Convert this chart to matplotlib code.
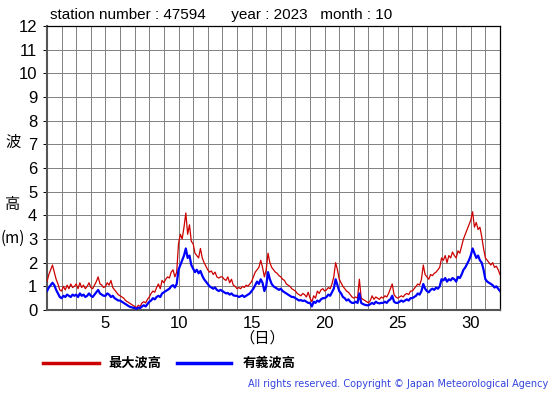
import numpy as np
import matplotlib
matplotlib.use("Agg")
import matplotlib.pyplot as plt

plt.rcParams['font.family'] = ['Liberation Sans', 'Noto Sans CJK JP']

# 3-hourly readings (00,03,...,21h) for each day of October 2023
days = list(range(1, 32))
hours = [0, 3, 6, 9, 12, 15, 18, 21]

# significant wave height (m)
hs_by_day = [
    [0.80, 0.95, 1.05, 1.15, 1.05, 0.85, 0.70, 0.55],
    [0.50, 0.60, 0.55, 0.65, 0.60, 0.55, 0.65, 0.60],
    [0.65, 0.55, 0.70, 0.60, 0.65, 0.55, 0.60, 0.70],
    [0.60, 0.55, 0.65, 0.75, 0.85, 0.70, 0.65, 0.60],
    [0.60, 0.70, 0.65, 0.55, 0.60, 0.50, 0.45, 0.40],
    [0.40, 0.35, 0.30, 0.25, 0.20, 0.15, 0.12, 0.10],
    [0.08, 0.05, 0.10, 0.08, 0.15, 0.20, 0.15, 0.25],
    [0.35, 0.40, 0.50, 0.45, 0.55, 0.60, 0.55, 0.70],
    [0.75, 0.80, 0.85, 0.90, 1.00, 1.05, 0.95, 1.10],
    [1.70, 1.90, 2.10, 2.30, 2.60, 2.20, 2.30, 1.90],
    [1.75, 1.60, 1.70, 1.55, 1.65, 1.45, 1.30, 1.20],
    [1.10, 1.00, 0.95, 0.90, 0.95, 0.85, 0.80, 0.85],
    [0.80, 0.75, 0.70, 0.72, 0.65, 0.70, 0.62, 0.60],
    [0.60, 0.55, 0.58, 0.62, 0.55, 0.60, 0.65, 0.70],
    [0.80, 0.90, 1.05, 1.20, 1.10, 1.30, 1.15, 0.80],
    [1.00, 1.60, 1.30, 1.10, 1.00, 0.95, 0.90, 0.85],
    [0.90, 0.80, 0.75, 0.70, 0.65, 0.60, 0.55, 0.55],
    [0.50, 0.45, 0.40, 0.42, 0.38, 0.40, 0.35, 0.30],
    [0.30, 0.15, 0.35, 0.30, 0.40, 0.35, 0.45, 0.50],
    [0.50, 0.55, 0.65, 0.60, 0.75, 0.90, 1.30, 1.05],
    [0.80, 0.70, 0.55, 0.50, 0.40, 0.45, 0.35, 0.30],
    [0.30, 0.35, 0.30, 0.70, 0.30, 0.25, 0.22, 0.20],
    [0.20, 0.25, 0.30, 0.25, 0.35, 0.30, 0.28, 0.30],
    [0.30, 0.35, 0.30, 0.40, 0.45, 0.60, 0.35, 0.30],
    [0.30, 0.35, 0.40, 0.35, 0.40, 0.45, 0.40, 0.50],
    [0.50, 0.55, 0.60, 0.70, 0.65, 0.80, 1.10, 0.90],
    [0.80, 0.75, 0.85, 0.90, 0.85, 0.95, 0.90, 1.00],
    [1.30, 1.25, 1.35, 1.20, 1.30, 1.25, 1.35, 1.30],
    [1.20, 1.40, 1.35, 1.50, 1.70, 1.80, 1.95, 2.10],
    [2.30, 2.60, 2.40, 2.20, 2.30, 2.10, 2.00, 1.70],
    [1.30, 1.20, 1.15, 1.10, 1.05, 0.95, 1.00, 0.90],
]
hs_end = 0.80

# maximum wave height (m)
hmax_by_day = [
    [1.20, 1.50, 1.70, 1.90, 1.60, 1.30, 1.10, 0.85],
    [0.80, 1.00, 0.85, 1.05, 0.90, 1.10, 0.95, 1.00],
    [1.10, 0.90, 1.15, 0.95, 1.05, 0.90, 1.00, 1.15],
    [0.95, 0.90, 1.05, 1.20, 1.40, 1.10, 1.05, 0.95],
    [1.00, 1.15, 1.05, 1.25, 0.95, 0.85, 0.75, 0.65],
    [0.60, 0.55, 0.50, 0.40, 0.35, 0.30, 0.25, 0.20],
    [0.15, 0.10, 0.20, 0.15, 0.30, 0.35, 0.30, 0.45],
    [0.55, 0.70, 0.80, 0.75, 0.95, 1.10, 0.90, 1.25],
    [1.15, 1.30, 1.40, 1.35, 1.60, 1.70, 1.40, 1.60],
    [2.80, 3.20, 3.00, 3.50, 4.10, 3.20, 3.60, 2.90],
    [2.80, 2.40, 2.30, 2.20, 2.60, 2.20, 2.00, 1.85],
    [1.70, 1.60, 1.65, 1.50, 1.60, 1.40, 1.35, 1.40],
    [1.40, 1.30, 1.25, 1.40, 1.15, 1.30, 1.05, 1.00],
    [0.90, 0.95, 0.90, 1.00, 0.95, 1.05, 1.00, 1.10],
    [1.20, 1.40, 1.60, 1.70, 1.80, 2.10, 1.80, 1.40],
    [1.70, 2.40, 2.00, 1.80, 1.70, 1.60, 1.55, 1.45],
    [1.40, 1.30, 1.25, 1.10, 1.05, 1.00, 0.90, 0.85],
    [0.80, 0.70, 0.65, 0.60, 0.70, 0.65, 0.55, 0.75],
    [0.50, 0.35, 0.60, 0.50, 0.80, 0.70, 0.85, 0.90],
    [0.80, 0.85, 0.95, 0.90, 1.10, 1.40, 2.00, 1.70],
    [1.30, 1.15, 1.00, 0.90, 0.80, 0.75, 0.65, 0.55],
    [0.50, 0.55, 0.50, 1.30, 0.50, 0.45, 0.40, 0.35],
    [0.30, 0.40, 0.60, 0.45, 0.55, 0.50, 0.45, 0.55],
    [0.50, 0.60, 0.55, 0.70, 0.90, 1.10, 0.65, 0.55],
    [0.50, 0.55, 0.60, 0.55, 0.65, 0.70, 0.65, 0.80],
    [0.80, 0.90, 1.00, 1.10, 1.05, 1.30, 1.90, 1.50],
    [1.40, 1.30, 1.50, 1.45, 1.55, 1.60, 1.70, 1.80],
    [2.20, 2.10, 2.30, 2.00, 2.30, 2.20, 2.45, 2.30],
    [2.20, 2.50, 2.40, 2.70, 3.00, 3.20, 3.40, 3.60],
    [3.80, 4.15, 3.50, 3.70, 3.40, 3.50, 3.10, 2.60],
    [2.20, 2.10, 2.00, 1.90, 2.00, 1.80, 1.85, 1.70],
]
hmax_end = 1.50

xticks = [5, 10, 15, 20, 25, 30]
yticks = list(range(0, 13))

# time axis in days
t = [d + h / 24 for d in days for h in hours] + [days[-1] + 1]
hs = [v for row in hs_by_day for v in row] + [hs_end]
hmax = [v for row in hmax_by_day for v in row] + [hmax_end]

fig = plt.figure(figsize=(5.55, 3.95), dpi=100)
ax = fig.add_axes([47 / 555, 1 - 310 / 395, 453 / 555, 284 / 395])

ax.plot(t, hmax, color='#cc0000', lw=0.9, zorder=3)
ax.plot(t, hs, color='#0000ff', lw=1.6, zorder=4)

ax.set_xlim(1, 32)
ax.set_ylim(0, 12)
ax.set_xticks(xticks)
ax.set_xticks(range(1, 33), minor=True)
ax.set_yticks(yticks)
ax.grid(True, which='both', color='#808080', lw=0.7)
ax.tick_params(axis='both', which='both', length=0, labelsize=12, pad=4)
ax.tick_params(axis='y', length=3, width=0.7)
for s in ax.spines.values():
    s.set_color('black')
    s.set_linewidth(0.9)
ax.spines['left'].set_color('#555555')
ax.spines['left'].set_linewidth(1.5)
ax.spines['bottom'].set_color('#555555')
ax.spines['bottom'].set_linewidth(1.5)

fig.text(50 / 555, 1 - 15 / 395, "station number : 47594      year : 2023   month : 10",
         fontsize=11, va='center', ha='left')

jp = ['Noto Sans CJK JP', 'DejaVu Sans']
fig.text(13 / 555, 1 - 142 / 395, "波", fontsize=11, ha='center', va='center', family=jp)
fig.text(13 / 555, 1 - 205 / 395, "高", fontsize=11, ha='center', va='center', family=jp)
fig.text(1 / 555, 1 - 238 / 395, "(m)", fontsize=11, ha='left', va='center', family=jp)
fig.text(262 / 555, 1 - 338 / 395, "（日）", fontsize=11, ha='center', va='center', family=jp)

# legend
fig.add_artist(plt.Line2D([43 / 555, 99 / 555], [1 - 363 / 395] * 2, color='#cc0000', lw=2.5))
fig.text(108 / 555, 1 - 363 / 395, "最大波高", fontsize=9.5, weight='bold', va='center', family=jp)
fig.add_artist(plt.Line2D([177 / 555, 231 / 555], [1 - 363 / 395] * 2, color='#0000ff', lw=2.5))
fig.text(243 / 555, 1 - 363 / 395, "有義波高", fontsize=9.5, weight='bold', va='center', family=jp)

fig.text(548 / 555, 1 - 384 / 395, "All rights reserved. Copyright © Japan Meteorological Agency",
         fontsize=7, color='#3344dd', ha='right', va='center', family=['DejaVu Sans'])

fig.savefig("out.png", dpi=100)
